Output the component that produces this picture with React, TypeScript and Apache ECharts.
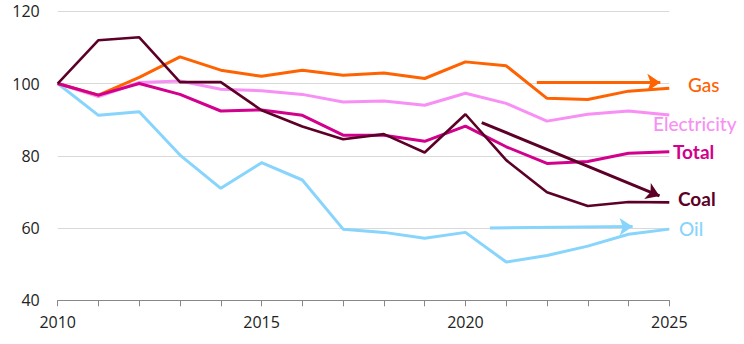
import React, { useEffect, useRef } from "react";
import * as echarts from "echarts";

const years = [2010, 2011, 2012, 2013, 2014, 2015, 2016, 2017, 2018, 2019, 2020, 2021, 2022, 2023, 2024, 2025];
const gas = [100, 96.8, 101.7, 107.4, 103.7, 102.0, 103.7, 102.3, 102.9, 101.4, 106.0, 104.9, 95.9, 95.6, 97.9, 98.7];
const electricity = [100, 96.4, 100.3, 100.7, 98.4, 98.0, 97.0, 94.9, 95.2, 94.0, 97.3, 94.5, 89.6, 91.5, 92.4, 91.3];
const total = [100, 96.8, 100.0, 97.0, 92.4, 92.7, 91.2, 85.7, 85.7, 84.0, 88.2, 82.5, 77.9, 78.4, 80.7, 81.1];
const coal = [100, 112.0, 112.8, 100.4, 100.4, 92.6, 88.1, 84.6, 86.0, 80.9, 91.5, 78.8, 69.9, 66.1, 67.2, 67.1];
const oil = [100, 91.2, 92.2, 80.2, 71.0, 78.1, 73.3, 59.7, 58.8, 57.2, 58.8, 50.6, 52.4, 55.0, 58.3, 59.7];

// arrow annotations: [startYear, startValue, endYear, endValue]
const gasArrow = [2021.75, 100.3, 2024.78, 100.3];
const coalArrow = [2020.4, 89.2, 2024.76, 68.9];
const oilArrow = [2020.6, 60.0, 2024.1, 60.4];

const yTicks = { min: 40, max: 120, interval: 20 };
const xLabelYears = [2010, 2015, 2020, 2025];

const COLORS = {
  gas: "#ff6200",
  electricity: "#f78ff4",
  total: "#d2008c",
  coal: "#5c0028",
  oil: "#87d4fc",
};

function pairs(vals: number[]) {
  return years.map((y, i) => [y, vals[i]]);
}

function arrow(a: number[], color: string) {
  return {
    silent: true,
    symbol: ["none", "arrow"],
    symbolSize: 13,
    precision: 4,
    label: { show: false },
    itemStyle: { color },
    lineStyle: { color, width: 3, type: "solid", opacity: 1 },
    emphasis: { disabled: true },
    data: [[{ coord: [a[0], a[1]] }, { coord: [a[2], a[3]] }]],
  };
}

export default function App() {
  const ref = useRef<HTMLDivElement>(null);
  useEffect(() => {
    if (!ref.current) return;
    const chart = echarts.init(ref.current, null, { renderer: "svg" });
    const line = (name: string, vals: number[], color: string, width: number, ml?: any) => ({
      name,
      type: "line",
      data: pairs(vals),
      symbol: "none",
      lineStyle: { color, width },
      itemStyle: { color },
      z: 3,
      ...(ml ? { markLine: ml } : {}),
    });
    const labelFont = "Lato, 'Open Sans', sans-serif";
    chart.setOption({
      animation: false,
      grid: { left: 57.7, right: 74.7, top: 11.3, bottom: 43.7, containLabel: false },
      xAxis: {
        type: "value",
        min: 2010,
        max: 2025,
        interval: 1,
        axisLine: { show: true, lineStyle: { color: "#888", width: 1 } },
        axisTick: { show: true, length: 6, lineStyle: { color: "#888" } },
        splitLine: { show: false },
        axisLabel: {
          color: "#222",
          fontSize: 16,
          fontFamily: "'Open Sans', sans-serif",
          margin: 14,
          formatter: (v: number) => (xLabelYears.includes(v) ? String(v) : ""),
        },
      },
      yAxis: {
        type: "value",
        min: yTicks.min,
        max: yTicks.max,
        interval: yTicks.interval,
        axisLine: { show: false },
        axisTick: { show: false },
        splitLine: { lineStyle: { color: "#d9d9d9", width: 1 } },
        axisLabel: { color: "#222", fontSize: 16, fontFamily: "'Open Sans', sans-serif", margin: 18 },
      },
      series: [
        line("Oil", oil, COLORS.oil, 3, arrow(oilArrow, COLORS.oil)),
        line("Electricity", electricity, COLORS.electricity, 3),
        line("Gas", gas, COLORS.gas, 3, arrow(gasArrow, COLORS.gas)),
        line("Total", total, COLORS.total, 3),
        line("Coal", coal, COLORS.coal, 2.6, arrow(coalArrow, COLORS.coal)),
      ],
      graphic: [
        { type: "text", left: 688, top: 75, style: { text: "Gas", fill: COLORS.gas, font: `500 19px ${labelFont}` } },
        { type: "text", left: 653, top: 114, style: { text: "Electricity", fill: COLORS.electricity, font: `500 19px ${labelFont}` } },
        { type: "text", left: 673, top: 142, style: { text: "Total", fill: COLORS.total, font: `bold 19px ${labelFont}` } },
        { type: "text", left: 678, top: 189, style: { text: "Coal", fill: COLORS.coal, font: `bold 19px ${labelFont}` } },
        { type: "text", left: 679, top: 219, style: { text: "Oil", fill: COLORS.oil, font: `500 19px ${labelFont}` } },
      ],
    });
    return () => chart.dispose();
  }, []);
  return <div ref={ref} style={{ width: 744, height: 344, position: "absolute", left: 0, top: 0 }} />;
}
